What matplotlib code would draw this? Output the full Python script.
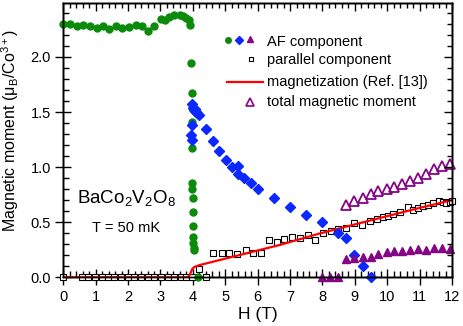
import matplotlib
matplotlib.use("Agg")
import matplotlib.pyplot as plt
from matplotlib.ticker import MultipleLocator

plt.rcParams["font.family"] = ["Liberation Sans", "DejaVu Sans"]
plt.rcParams["mathtext.fontset"] = "custom"
plt.rcParams["mathtext.rm"] = "Liberation Sans"
plt.rcParams["mathtext.it"] = "Liberation Sans:italic"

# AF component, low-field phase (green circles)
H_af_low = [0, 0.21, 0.41, 0.62, 0.82, 1.03, 1.23, 1.42, 1.62, 1.81, 2.02, 2.23, 2.43,
            2.61, 2.80, 3.01, 3.13, 3.27, 3.42, 3.60, 3.70, 3.80, 3.87, 3.91, 3.94,
            3.96, 3.97, 3.97, 3.98, 3.98, 3.99, 4.00, 4.00, 4.01, 4.01, 4.02, 4.02, 4.15]
m_af_low = [2.30, 2.30, 2.284, 2.294, 2.278, 2.26, 2.284, 2.254, 2.278, 2.26, 2.272,
            2.294, 2.278, 2.239, 2.284, 2.345, 2.339, 2.363, 2.382, 2.382, 2.37, 2.354,
            2.333, 2.29, 1.945, 1.67, 1.41, 1.17, 0.86, 0.80, 0.72, 0.59, 0.47, 0.37,
            0.31, 0.27, 0.25, 0.0]

# AF component, intermediate phase (blue diamonds)
H_af_mid = [3.94, 3.96, 3.98, 3.98, 4.01, 4.03, 4.06, 4.08, 4.10, 4.14, 4.20, 4.40,
            4.61, 4.81, 5.01, 5.20, 5.40, 5.40, 5.59, 5.79, 6.00, 6.49, 7.00, 7.50,
            7.99, 8.47, 8.73, 8.98, 9.24, 9.49]
m_af_mid = [1.29, 1.25, 1.385, 1.57, 1.54, 1.52, 1.51, 1.53, 1.50, 1.49, 1.47, 1.345,
            1.233, 1.148, 1.066, 1.003, 1.006, 0.937, 0.905, 0.86, 0.80, 0.724, 0.64,
            0.566, 0.506, 0.405, 0.36, 0.203, 0.106, 0.0]

# AF component, high-field phase (purple filled triangles)
H_af_high = [8.0, 8.24, 8.48, 8.73, 8.98, 9.24, 9.49, 9.72, 9.98, 10.21, 10.46, 10.70,
             10.96, 11.21, 11.45, 11.68, 11.94]
m_af_high = [0, 0, 0, 0.163, 0.172, 0.187, 0.187, 0.209, 0.233, 0.242, 0.242, 0.248,
             0.254, 0.248, 0.269, 0.263, 0.254]

# total magnetic moment (open triangles)
H_tot = [8.73, 8.98, 9.24, 9.49, 9.72, 9.98, 10.21, 10.46, 10.70, 10.96, 11.21, 11.45,
         11.68, 11.94]
m_tot = [0.657, 0.694, 0.724, 0.755, 0.779, 0.80, 0.824, 0.845, 0.875, 0.90, 0.939,
         0.982, 1.006, 1.03]

# parallel component (open squares)
H_par = [0, 0.57, 0.77, 0.98, 1.18, 1.39, 1.57, 1.78, 1.99, 2.19, 2.40, 2.60, 2.81,
         3.02, 3.22, 3.43, 3.63, 3.80, 3.96, 4.19, 4.42, 4.63, 4.89, 5.12, 5.37, 5.63,
         5.86, 6.10, 6.35, 6.59, 6.82, 7.07, 7.31, 7.54, 7.78, 8.03, 8.26, 8.49, 8.74,
         8.98, 9.22, 9.47, 9.70, 9.88, 10.03, 10.19, 10.39, 10.63, 10.80, 10.96, 11.11,
         11.27, 11.42, 11.60, 11.73, 11.83, 11.94, 12.0]
m_par = [0, 0, 0, 0, 0, 0, 0, 0, 0, 0, 0, 0, 0, 0, 0, 0, 0, 0, 0, 0.073, 0, 0.224,
         0.224, 0.224, 0.209, 0.248, 0.218, 0.218, 0.339, 0.324, 0.348, 0.37, 0.354,
         0.385, 0.342, 0.40, 0.424, 0.436, 0.451, 0.491, 0.475, 0.512, 0.53, 0.551,
         0.56, 0.573, 0.597, 0.636, 0.612, 0.633, 0.648, 0.657, 0.678, 0.696, 0.687,
         0.673, 0.682, 0.69]

# magnetization curve (Ref. [13])
H_mag = [0, 3.80, 3.88, 3.93, 3.98, 4.05, 4.22, 4.63, 5.66, 6.69, 7.87, 9.0, 10.0,
         11.0, 12.0]
m_mag = [0, 0, 0.01, 0.04, 0.075, 0.095, 0.112, 0.142, 0.218, 0.294, 0.394, 0.48,
         0.555, 0.63, 0.70]

GREEN = "#0b8a0b"
BLUE = "#0a28ff"
PURPLE = "#850585"

fig = plt.figure(figsize=(4.63, 3.26), dpi=100)
ax = fig.add_axes([0.1367, 0.1494, 0.8395, 0.8414])

ax.plot(H_par, m_par, "s", ms=4.2, mfc="white", mec="black", mew=0.8,
        ls="none", clip_on=False, zorder=3)
ax.plot(H_mag, m_mag, "-", color="red", lw=1.6, zorder=4)
ax.plot(H_af_low, m_af_low, "o", ms=5, color=GREEN, ls="none", clip_on=False, zorder=5)
ax.plot(H_af_mid, m_af_mid, "D", ms=5, color=BLUE, ls="none", clip_on=False, zorder=5)
ax.plot(H_af_high, m_af_high, "^", ms=6, color=PURPLE, ls="none", clip_on=False, zorder=5)
ax.plot(H_tot, m_tot, "^", ms=7, mfc="none", mec=PURPLE, mew=1.3, ls="none",
        clip_on=False, zorder=5)

# legend drawn by hand (data coords)
ax.plot([5.09], [2.157], "o", ms=4, color=GREEN)
ax.plot([5.43], [2.157], "D", ms=3.8, color=BLUE)
ax.plot([5.76], [2.165], "^", ms=4.5, color=PURPLE)
ax.plot([5.78], [1.985], "s", ms=3.3, mfc="white", mec="black", mew=0.8)
ax.plot([5.06, 6.18], [1.77, 1.77], "-", color="red", lw=1.6)
ax.plot([5.76], [1.595], "^", ms=5.5, mfc="none", mec=PURPLE, mew=1.2)
leg_labels = ["AF component", "parallel component", "magnetization (Ref. [13])",
              "total magnetic moment"]
leg_y = [2.14, 1.97, 1.77, 1.595]
for lab, yy in zip(leg_labels, leg_y):
    ax.text(6.29, yy, lab, fontsize=10.5, va="center", ha="left")

ax.text(1.95, 0.72, r"BaCo$_2$V$_2$O$_8$", fontsize=13.5, ha="center", va="center")
ax.text(1.93, 0.45, "T = 50 mK", fontsize=10.5, ha="center", va="center")

ax.set_xlim(0, 12)
ax.set_ylim(0, 2.49)
ax.xaxis.set_major_locator(MultipleLocator(1))
ax.xaxis.set_minor_locator(MultipleLocator(0.2))
ax.yaxis.set_major_locator(MultipleLocator(0.5))
ax.yaxis.set_minor_locator(MultipleLocator(0.1))
ax.set_yticks([0, 0.5, 1.0, 1.5, 2.0])
ax.set_yticklabels(["0.0", "0.5", "1.0", "1.5", "2.0"])

ax.tick_params(which="major", direction="inout", length=11, width=1, labelsize=10.5,
               bottom=True, left=True, top=False, right=False)
ax.tick_params(which="minor", direction="in", length=4, width=1,
               bottom=True, left=True, top=False, right=False)
# top/right inward ticks
ax2 = ax.twinx()
ax2.set_ylim(ax.get_ylim())
ax2.yaxis.set_major_locator(MultipleLocator(0.5))
ax2.yaxis.set_minor_locator(MultipleLocator(0.1))
ax2.tick_params(which="major", direction="in", length=6, width=1, labelright=False)
ax2.tick_params(which="minor", direction="in", length=3.5, width=1)
ax3 = ax.twiny()
ax3.set_xlim(ax.get_xlim())
ax3.xaxis.set_major_locator(MultipleLocator(1))
ax3.xaxis.set_minor_locator(MultipleLocator(0.2))
ax3.tick_params(which="major", direction="in", length=6, width=1, labeltop=False)
ax3.tick_params(which="minor", direction="in", length=3.5, width=1)

for a in (ax, ax2, ax3):
    for s in a.spines.values():
        s.set_linewidth(1.0)

ax.set_xlabel("H (T)", fontsize=12.5, labelpad=2)
ax.set_ylabel("Magnetic moment (μ$_\\mathrm{B}$/Co$^{3+}$)", fontsize=11.5)
ax.yaxis.set_label_coords(-0.108, 0.535)

fig.savefig("out.png", dpi=100)
